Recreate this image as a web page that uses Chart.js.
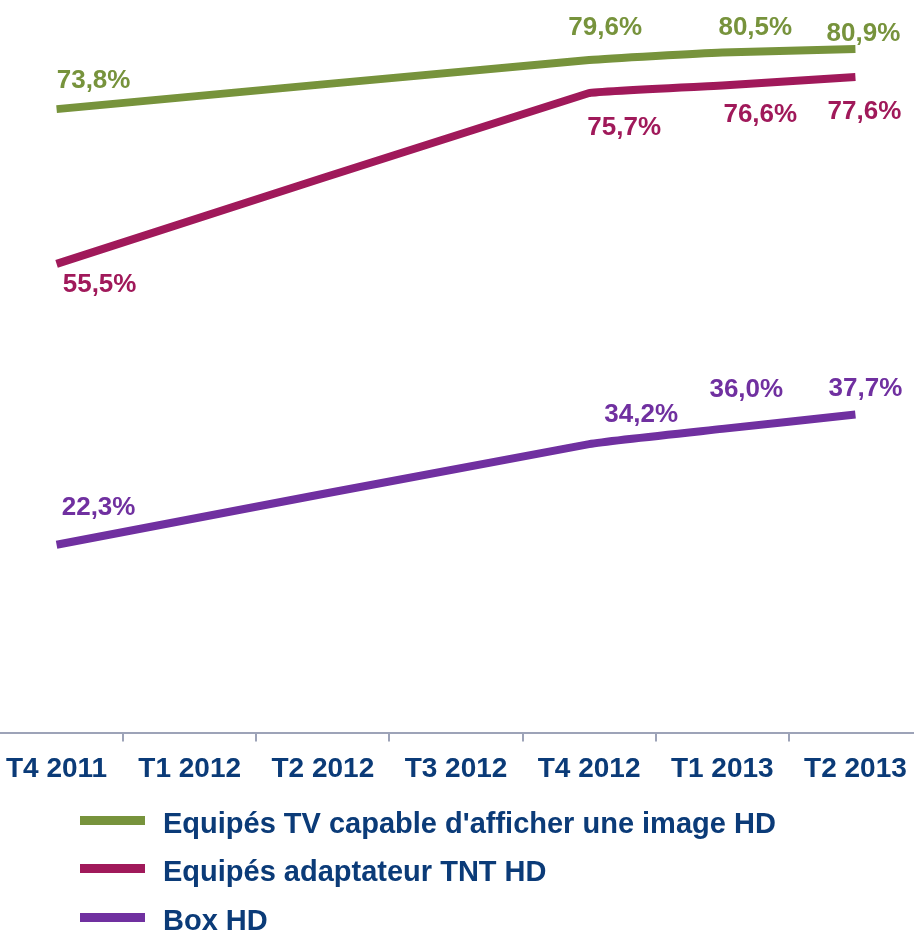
<!DOCTYPE html>
<html>
<head>
<meta charset="utf-8">
<script src="https://cdn.jsdelivr.net/npm/chart.js@4/dist/chart.umd.min.js"></script>
<style>
  html, body { margin: 0; padding: 0; background: #fff; overflow: hidden; width: 914px; height: 938px; }
  #wrap { position: absolute; left: -10px; top: 0; width: 932px; height: 938px; }
  #legend { position: absolute; left: 80px; top: 799px; font-family: "Liberation Sans", Arial, sans-serif; }
  .row { display: flex; align-items: center; height: 48.5px; }
  .swatch { width: 65px; height: 9px; margin-right: 18px; position: relative; top: -3px; }
  .txt { font-size: 29px; font-weight: bold; color: #0B3B78; white-space: nowrap; }
</style>
</head>
<body>
<div id="wrap"><canvas id="tvChart" width="932" height="938"></canvas></div>
<div id="legend"></div>
<script>
const quarters = ['T4 2011', 'T1 2012', 'T2 2012', 'T3 2012', 'T4 2012', 'T1 2013', 'T2 2013'];
const seriesNames = [
    "Equipés TV capable d'afficher une image HD",
    'Equipés adaptateur TNT HD',
    'Box HD'
];
// only the quarters that carry a value in the source
const tvHD = [73.8, null, null, null, 79.6, 80.5, 80.9];
const tntHD = [55.5, null, null, null, 75.7, 76.6, 77.6];
const boxHD = [22.3, null, null, null, 34.2, 36.0, 37.7];

const colors = ['#77933C', '#A0195A', '#7030A0'];
const navy = '#0B3B78';

// where each value label sits relative to its point (px)
const labelOffsets = [
    [[37, -30], [16, -34], [33, -27], [8, -17]],
    [[43, 19], [35, 33], [38, 27], [9, 33]],
    [[42, -39], [52, -31], [24, -41], [10, -28]]
];

const valueLabels = {
    id: 'valueLabels',
    afterDatasetsDraw(chart, args, opts) {
        const ctx = chart.ctx;
        ctx.save();
        ctx.font = 'bold 26px "Liberation Sans", Arial, sans-serif';
        ctx.textAlign = 'center';
        ctx.textBaseline = 'alphabetic';
        chart.data.datasets.forEach((ds, i) => {
            const meta = chart.getDatasetMeta(i);
            let k = 0;
            ds.data.forEach((v, j) => {
                if (v === null) return;
                const pt = meta.data[j];
                const o = opts.offsets[i][k++];
                ctx.fillStyle = ds.borderColor;
                ctx.fillText(v.toFixed(1).replace('.', ',') + '%', pt.x + o[0], pt.y + o[1] + 9.3);
            });
        });
        ctx.restore();
    }
};

function drawChart() {
    Chart.defaults.font.family = '"Liberation Sans", Arial, sans-serif';
    const ctx = document.getElementById('tvChart').getContext('2d');
    const series = [tvHD, tntHD, boxHD];
    new Chart(ctx, {
        type: 'line',
        data: {
            labels: quarters,
            datasets: series.map((s, i) => ({
                label: seriesNames[i],
                data: s,
                borderColor: colors[i],
                backgroundColor: colors[i],
                borderWidth: 8,
                pointRadius: 0,
                spanGaps: true,
                tension: i === 1 ? 0.05 : 0.15,
                fill: false
            }))
        },
        plugins: [valueLabels],
        options: {
            responsive: false,
            animation: false,
            devicePixelRatio: 1,
            layout: { padding: { top: 0, left: 0, right: 0, bottom: 141 } },
            plugins: {
                legend: { display: false },
                tooltip: { enabled: false },
                valueLabels: { offsets: labelOffsets }
            },
            scales: {
                x: {
                    offset: true,
                    grid: {
                        offset: true,
                        drawOnChartArea: false,
                        drawTicks: true,
                        tickLength: 8,
                        color: '#9DA3B8',
                        lineWidth: 2
                    },
                    border: { display: true, color: '#9DA3B8', width: 2 },
                    ticks: {
                        color: navy,
                        padding: 11,
                        maxRotation: 0,
                        autoSkip: false,
                        font: { size: 28, weight: 'bold' }
                    }
                },
                y: {
                    display: false,
                    min: 0,
                    max: 86.7
                }
            }
        }
    });
}

function renderLegend() {
    const box = document.getElementById('legend');
    seriesNames.forEach((name, i) => {
        const row = document.createElement('div');
        row.className = 'row';
        const sw = document.createElement('div');
        sw.className = 'swatch';
        sw.style.background = colors[i];
        const t = document.createElement('span');
        t.className = 'txt';
        t.textContent = name;
        row.appendChild(sw);
        row.appendChild(t);
        box.appendChild(row);
    });
}

drawChart();
renderLegend();
</script>
</body>
</html>
